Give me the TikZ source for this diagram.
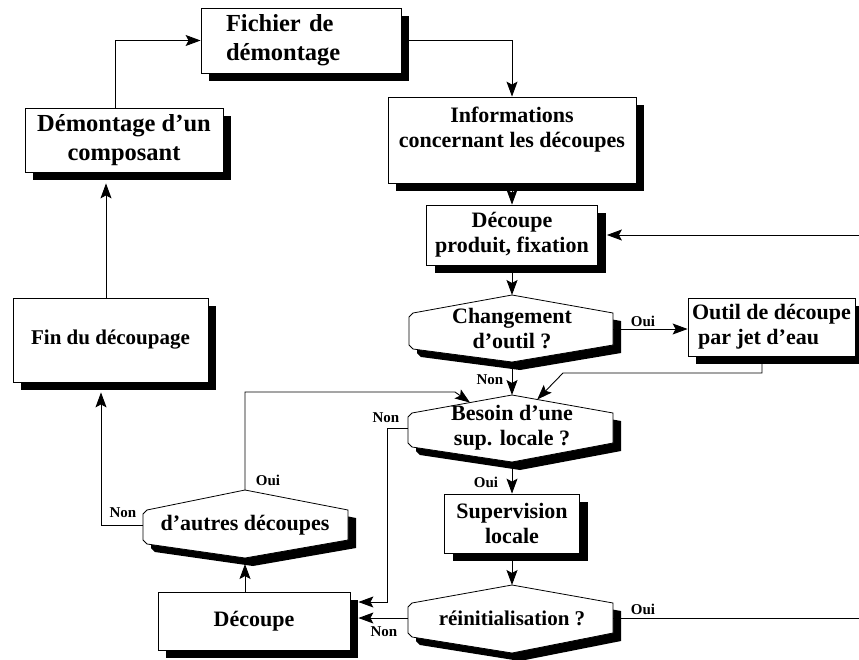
\documentclass[tikz,border=0pt]{standalone}
\usepackage{fontspec}
\setmainfont{Liberation Serif}
\usetikzlibrary{arrows.meta,shadows,calc}

\tikzset{
  conn/.style={line width=0.9pt, -{Stealth[length=15pt,width=11pt,inset=3pt]}},
  plainline/.style={line width=0.9pt},
  boxn/.style={draw, line width=0.8pt, fill=white, inner sep=0pt, align=center,
    font=\fontsize{22}{25}\selectfont\bfseries,
    drop shadow={shadow xshift=8pt, shadow yshift=-8pt, fill=black, opacity=1}},
  bigtxt/.style={font=\fontsize{24.5}{29}\selectfont\bfseries},
  hextxt/.style={font=\fontsize{22}{25}\selectfont\bfseries, align=center, inner sep=0pt},
  lbl/.style={font=\fontsize{15}{17}\selectfont\bfseries, inner sep=0pt},
}

% #1 name, #2 cx, #3 L, #4 R, #5 top, #6 y1, #7 y2, #8 bottom, #9 text
\newcommand{\hexbox}[9]{%
  \fill[black, shift={(8,8)}] (#2,#5) -- (#4,#6) -- (#4,#7) -- (#2,#8) -- ({#3+4},{#7+4}) -- (#3,#7) -- (#3,{#6+4}) -- ({#3+4},#6) -- cycle;
  \draw[fill=white, line width=0.8pt] (#2,#5) -- (#4,#6) -- (#4,#7) -- (#2,#8) -- ({#3+4},{#7+4}) -- (#3,#7) -- (#3,{#6+4}) -- ({#3+4},#6) -- cycle;
  \coordinate (#1-t) at (#2,#5);
  \coordinate (#1-b) at (#2,#8);
  \coordinate (#1-tl) at ({#3+4},#6);
  \coordinate (#1-tr) at (#4,#6);
  \coordinate (#1-l) at (#3,{(#6+#7)/2});
  \coordinate (#1-r) at (#4,{(#6+#7)/2});
  \node[hextxt] (#1) at (#2,{(#6+#7)/2}) {#9};
}

\begin{document}
\begin{tikzpicture}[x=1pt, y=-1pt]
\useasboundingbox (0,0) rectangle (859,659);

% rectangles
\node[boxn, bigtxt, minimum width=200pt, minimum height=65pt, text width=150pt, align=left] (fich) at (301,40.5) {Fichier de\\démontage};
\node[boxn, bigtxt, minimum width=198pt, minimum height=64pt] (dem) at (124,140) {Démontage d’un\\composant};
\node[boxn, minimum width=248pt, minimum height=86pt] (info) at (512,140) {Informations\\concernant les découpes\\ \mbox{}};
\node[boxn, minimum width=171pt, minimum height=60pt] (prod) at (512,235) {Découpe\\produit, fixation};
\node[boxn, minimum width=167pt, minimum height=58pt, align=left] (outil) at (771.5,327) {Outil de découpe\\\hspace*{6pt}par jet d’eau};
\node[boxn, font=\fontsize{21}{25}\selectfont\bfseries, minimum width=195pt, minimum height=84pt] (fin) at (110.5,340) {Fin du découpage};
\node[boxn, minimum width=135pt, minimum height=59pt] (sup) at (512,523.5) {Supervision\\locale};
\node[boxn, minimum width=192pt, minimum height=58pt] (dec) at (254,621) {Découpe};

% decisions
\hexbox{chg}{512}{409}{613}{295}{313}{345}{362}{Changement\\d’outil ?}
\hexbox{bes}{512}{408}{613}{395}{413}{443}{462}{Besoin d’une\\sup. locale ?}
\hexbox{aut}{245}{143}{348}{490}{510}{540}{558}{d’autres découpes}
\hexbox{rei}{512}{408}{613}{585}{603}{633}{653}{\fontsize{21}{25}\selectfont réinitialisation ?}

% helper coordinates
\coordinate (entry) at (859,235);
\coordinate (exit) at (859,618);
\coordinate (bend1) at (563,373);
\coordinate (bend2) at (455,392);
\coordinate (bend3) at (387,428);
\coordinate (bend4) at (387,602);
\coordinate (dec-e) at ([xshift=8pt]dec.east);
\coordinate (bes-ta) at ($(bes-t)!0.25!(bes-tr)$);
\coordinate (bes-tb) at ($(bes-t)!0.42!(bes-tl)$);
\coordinate (aut-bs) at ($(aut-b)+(0,6)$);

% connectors
\draw[conn] ([xshift=-9pt]dem.north) |- (fich.west);
\draw[conn] (fich.east) -| (info.north);
\draw[conn] (info.south) -- (prod.north);
\draw[conn] (prod.south) -- (chg-t);
\draw[conn] (entry) -- ([xshift=9pt]prod.east);
\draw[conn] (chg-r) -- (chg-r -| outil.west);
\draw[conn] (chg-b) -- (bes-t);
\draw[conn] ([xshift=-9.5pt]outil.south) |- (bend1) -- (bes-ta);
\draw[conn] (aut-t) |- (bend2) -- (bes-tb);
\draw[conn] (bes-l) -- (bend3) -- (bend4) -- (bend4 -| dec-e);
\draw[conn] (bes-b) -- (sup.north);
\draw[conn] (sup.south) -- (rei-t);
\draw[plainline] (rei-r) -- (exit);
\draw[conn] (rei-l) -- (rei-l -| dec-e);
\draw[conn] ([xshift=-9pt]dec.north) -- (aut-bs);
\draw[conn] (aut-l) -| ([xshift=-9.5pt,yshift=-10pt]fin.south);
\draw[conn] ([xshift=-4.5pt]fin.north) -- ([xshift=-18pt,yshift=-11pt]dem.south);

% labels
\node[lbl] (l1) at (643,321) {Oui};
\node[lbl] (l2) at (490,380) {Non};
\node[lbl] (l3) at (386,418) {Non};
\node[lbl] (l4) at (486,482) {Oui};
\node[lbl] (l5) at (268,480) {Oui};
\node[lbl] (l6) at (123,513) {Non};
\node[lbl] (l7) at (643,609) {Oui};
\node[lbl] (l8) at (384,632) {Non};
\end{tikzpicture}
\end{document}
